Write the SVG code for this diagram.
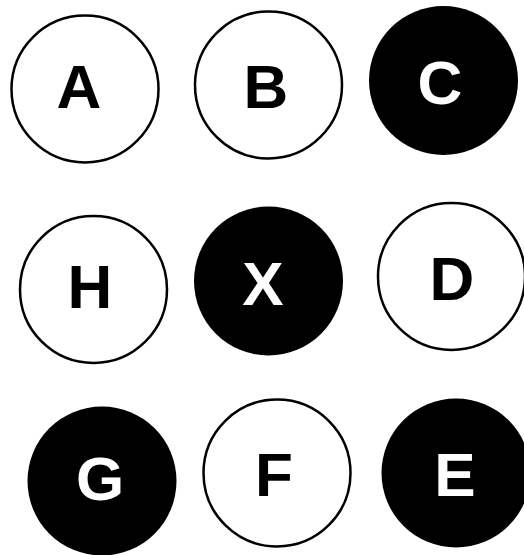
<svg xmlns="http://www.w3.org/2000/svg" width="524" height="555" viewBox="0 0 524 555">
<style>
.o{fill:#fff;stroke:#000;stroke-width:2.5}
.f{fill:#000;stroke:none}
.t{font-family:"Liberation Sans",Arial,sans-serif;font-weight:bold;font-size:62px;text-anchor:middle}
.tb{fill:#000}
.tw{fill:#fff}
</style>
<rect width="524" height="555" fill="#fff"/>
<g id="connectors"></g>
<g id="A"><circle class="o" cx="85" cy="89" r="73.5"/><text class="t tb" x="79" y="108">A</text></g>
<g id="B"><circle class="o" cx="268.5" cy="85" r="73.5"/><text class="t tb" x="266" y="108">B</text></g>
<g id="C"><circle class="f" cx="443.5" cy="80.5" r="74.5"/><text class="t tw" x="440" y="104">C</text></g>
<g id="H"><circle class="o" cx="93.5" cy="289.5" r="73.5"/><text class="t tb" x="90" y="308">H</text></g>
<g id="X"><circle class="f" cx="268.5" cy="281" r="74.5"/><text class="t tw" x="263" y="305">X</text></g>
<g id="D"><circle class="o" cx="451.5" cy="276.5" r="73.5"/><text class="t tb" x="452" y="300">D</text></g>
<g id="G"><circle class="f" cx="102" cy="481" r="74.5"/><text class="t tw" x="100" y="500">G</text></g>
<g id="F"><circle class="o" cx="277" cy="473" r="73.5"/><text class="t tb" x="274" y="496">F</text></g>
<g id="E"><circle class="f" cx="456" cy="473" r="74.5"/><text class="t tw" x="455" y="496">E</text></g>
</svg>
